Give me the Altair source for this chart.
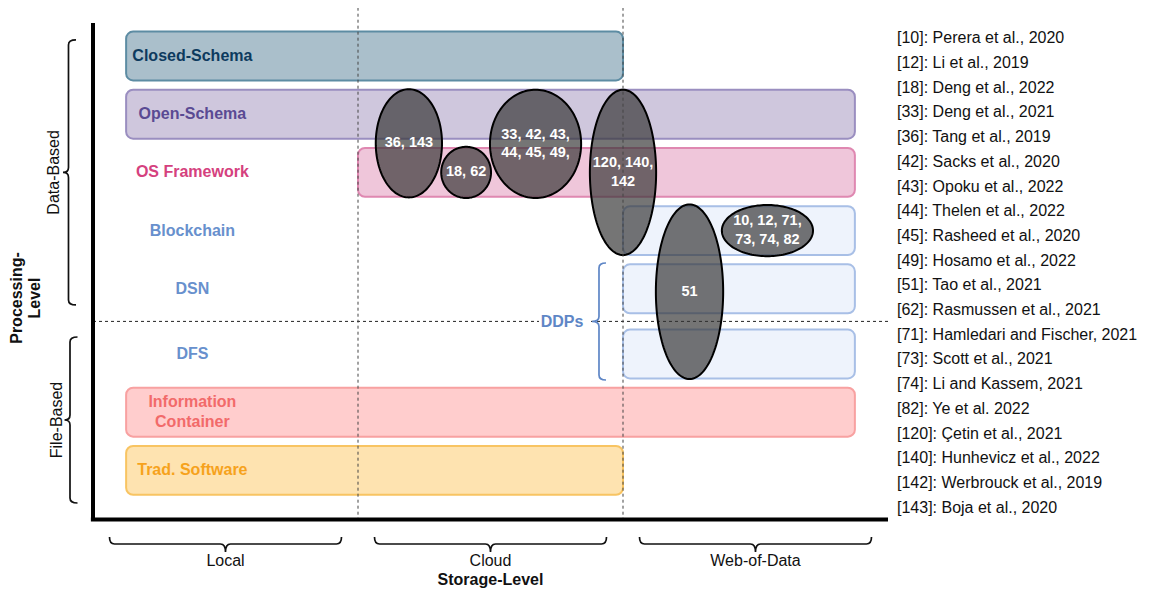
import altair as alt
import pandas as pd

FONT = "Liberation Sans, Arial, Helvetica, sans-serif"

# ---------------- data ----------------
# storage levels (x, in column units: Local 0-1, Cloud 1-2, Web-of-Data 2-3)
storage_levels = ["Local", "Cloud", "Web-of-Data"]
storage_centers = [0.5, 1.5, 2.5]

# processing-level rows (y, in row units from the top)
rows = ["Closed-Schema", "Open-Schema", "OS Framework", "Blockchain",
        "DSN", "DFS", "Information Container", "Trad. Software"]
row_lines = [["Closed-Schema"], ["Open-Schema"], ["OS Framework"], ["Blockchain"],
             ["DSN"], ["DFS"], ["Information", "Container"], ["Trad. Software"]]
row_pos = [0.0, 1.0, 2.0, 3.0, 4.0, 5.12, 6.12, 7.12]
box_start = [0.125, 0.125, 1.0, 2.0, 2.0, 2.0, 0.125, 0.125]
box_end = [2.0, 2.875, 2.875, 2.875, 2.875, 2.875, 2.875, 2.0]
box_fill = ["#aabfcb", "#cfc7dd", "#efc6da", "#eef3fc", "#eef3fc", "#eef3fc", "#ffcdcd", "#fee3b0"]
box_stroke = ["#5d8ca3", "#9a8ec0", "#df88b1", "#a8bfe6", "#a8bfe6", "#a8bfe6", "#f8a1a1", "#f8c462"]
label_color = ["#0d3a5e", "#5a4a93", "#d5417e", "#6890cd", "#6890cd", "#6890cd", "#f26a6a", "#f6a21c"]
label_x = 0.375

# reference clusters (ellipses)
ell_refs = [["36, 143"], ["18, 62"], ["33, 42, 43,", "44, 45, 49,"],
            ["120, 140,", "142"], ["51"], ["10, 12, 71,", "73, 74, 82"]]
ell_cx = [1.192, 1.408, 1.670, 2.0, 2.251, 2.545]
ell_cy = [1.50, 2.0, 1.51, 2.0, 4.05, 3.0]
ell_rx = [0.125, 0.094, 0.172, 0.125, 0.127, 0.172]
ell_ry = [0.93, 0.44, 0.93, 1.42, 1.50, 0.44]

references = [
    "[10]: Perera et al., 2020", "[12]: Li et al., 2019", "[18]: Deng et al., 2022",
    "[33]: Deng et al., 2021", "[36]: Tang et al., 2019", "[42]: Sacks et al., 2020",
    "[43]: Opoku et al., 2022", "[44]: Thelen et al., 2022", "[45]: Rasheed et al., 2020",
    "[49]: Hosamo et al., 2022", "[51]: Tao et al., 2021", "[62]: Rasmussen et al., 2021",
    "[71]: Hamledari and Fischer, 2021", "[73]: Scott et al., 2021", "[74]: Li and Kassem, 2021",
    "[82]: Ye et al. 2022", "[120]: Çetin et al., 2021", "[140]: Hunhevicz et al., 2022",
    "[142]: Werbrouck et al., 2019", "[143]: Boja et al., 2020",
]

groups = ["Data-Based", "File-Based"]
group_center = [2.0, 6.254]
group_text_x = [-0.148, -0.134]
group_brace_x = [-0.0925, -0.0868]
group_brace_len = [265, 166]

# ---------------- layout helpers ----------------
XS = alt.Scale(domain=[-85 / 265, (1134 - 85) / 265], nice=False, zero=False)
YS = alt.Scale(domain=[-48 / 58.2, (580 - 48) / 58.2], nice=False, zero=False, reverse=True)
X_AXIS_Y = 7.964
Y_AXIS_TOP = -0.567


def vbrace(length, curl, tip, r=5.0):
    h = length / 2.0
    c, t, rr = curl / h, tip / h, r / h
    return (f"M{c:.4f},-1 Q0,-1 0,{-1 + rr:.4f} L0,{-rr:.4f} Q0,0 {-t:.4f},0 "
            f"M{-t:.4f},0 Q0,0 0,{rr:.4f} L0,{1 - rr:.4f} Q0,1 {c:.4f},1")


def hbrace(length, curl, tip, r=5.0):
    h = length / 2.0
    c, t, rr = curl / h, tip / h, r / h
    return (f"M-1,{-c:.4f} Q-1,0 {-1 + rr:.4f},0 L{-rr:.4f},0 Q0,0 0,{t:.4f} "
            f"M0,{t:.4f} Q0,0 {rr:.4f},0 L{1 - rr:.4f},0 Q1,0 1,{-c:.4f}")


def XE(f):
    return alt.X(f, scale=XS, axis=None)


def YE(f):
    return alt.Y(f, scale=YS, axis=None)


# ---------------- tables ----------------
box_df = pd.DataFrame({
    "row": rows, "x": box_start, "x2": box_end,
    "y": [p - 0.42 for p in row_pos], "y2": [p + 0.42 for p in row_pos],
    "fill": box_fill, "stroke": box_stroke,
})

lbl = []
for lines, p, c in zip(row_lines, row_pos, label_color):
    n = len(lines)
    for i, s in enumerate(lines):
        lbl.append({"x": label_x, "y": p + (i - (n - 1) / 2) * 0.344, "t": s, "c": c})
label_df = pd.DataFrame(lbl)

ell_df = pd.DataFrame({"eid": list(range(len(ell_cx))), "cx": ell_cx, "cy": ell_cy,
                       "rx": ell_rx, "ry": ell_ry})
et = []
for lines, cx, cy in zip(ell_refs, ell_cx, ell_cy):
    n = len(lines)
    for i, s in enumerate(lines):
        et.append({"x": cx, "y": cy + (i - (n - 1) / 2) * 0.318, "t": s, "c": "#ffffff"})
ell_text_df = pd.DataFrame(et)

ref_df = pd.DataFrame({"x": 3.034, "y": [-0.304 + i * 0.4245 for i in range(len(references))],
                       "t": references, "c": "#111111"})

col_df = pd.DataFrame({"x": storage_centers, "y": 8.68, "t": storage_levels, "c": "#111111"})
title_df = pd.DataFrame({"x": [1.5], "y": [9.0], "t": ["Storage-Level"], "c": ["#111111"]})
ddp_df = pd.DataFrame({"x": [1.77], "y": [4.575], "t": ["DDPs"], "c": ["#5e86c6"]})
ddp_bg_df = pd.DataFrame({"x": [1.683], "x2": [1.876], "y": [4.40], "y2": [4.72]})
group_df = pd.DataFrame({"x": group_text_x, "y": group_center, "t": groups, "c": "#111111"})
proc_df = pd.DataFrame({"x": [-0.285, -0.217], "y": [4.158, 4.158],
                        "t": ["Processing-", "Level"], "c": "#111111"})

brace_rows = []
for gx, gy, gl in zip(group_brace_x, group_center, group_brace_len):
    brace_rows.append({"x": gx, "y": gy, "path": vbrace(gl, 7.5, 5.5), "size": gl ** 2, "c": "#111111"})
brace_rows.append({"x": 1.9094, "y": 4.562, "path": vbrace(117, 7, 7), "size": 117 ** 2, "c": "#5e86c6"})
for cx in storage_centers:
    brace_rows.append({"x": cx, "y": 8.385, "path": hbrace(232, 7, 8), "size": 232 ** 2, "c": "#111111"})
brace_df = pd.DataFrame(brace_rows)

vlines_df = pd.DataFrame({"x": [1.0, 2.0], "y": -0.83, "y2": X_AXIS_Y})
hline_df = pd.DataFrame({"x": [0.0], "x2": [3.0], "y": [4.56]})

# ---------------- layers ----------------
boxes = alt.Chart(box_df).mark_rect(cornerRadius=7, strokeWidth=2).encode(
    x=XE("x:Q"), x2="x2:Q", y=YE("y:Q"), y2="y2:Q",
    fill=alt.Fill("fill:N", scale=None), stroke=alt.Stroke("stroke:N", scale=None),
)

hline = alt.Chart(hline_df).mark_rule(color="#222222", strokeWidth=1, strokeDash=[3, 3]).encode(
    x=XE("x:Q"), x2="x2:Q", y=YE("y:Q"))

ddp_bg = alt.Chart(ddp_bg_df).mark_rect(color="#ffffff").encode(
    x=XE("x:Q"), x2="x2:Q", y=YE("y:Q"), y2="y2:Q")

ellipses = alt.Chart(ell_df).transform_calculate(
    k="sequence(0, 73)"
).transform_flatten(["k"]).transform_calculate(
    a="PI * datum.k / 72"
).transform_calculate(
    ex="datum.cx + datum.rx * cos(datum.a)",
    ey1="datum.cy - datum.ry * sin(datum.a)",
    ey2="datum.cy + datum.ry * sin(datum.a)",
).mark_area(orient="vertical", fill="#333333", fillOpacity=0.68, stroke="#000000",
            strokeWidth=2, interpolate="linear").encode(
    x=XE("ex:Q"), y=YE("ey1:Q"), y2="ey2:Q", detail="eid:N",
)

vlines = alt.Chart(vlines_df).mark_rule(color="#444444", strokeWidth=1, strokeDash=[3, 3]).encode(
    x=XE("x:Q"), y=YE("y:Q"), y2="y2:Q")

axes_df = pd.DataFrame({"x": [0.0, -0.008], "x2": [0.0, 3.0],
                        "y": [Y_AXIS_TOP, X_AXIS_Y], "y2": [X_AXIS_Y, X_AXIS_Y]})
axes = alt.Chart(axes_df).mark_rule(color="#000000", strokeWidth=4).encode(
    x=XE("x:Q"), x2="x2:Q", y=YE("y:Q"), y2="y2:Q")

braces = alt.Chart(brace_df).mark_point(filled=False, strokeWidth=1.7, opacity=1).encode(
    x=XE("x:Q"), y=YE("y:Q"),
    shape=alt.Shape("path:N", scale=None),
    size=alt.Size("size:Q", scale=None),
    color=alt.Color("c:N", scale=None),
)


def texts(df, size, weight="normal", align="center", angle=0):
    return alt.Chart(df).mark_text(font=FONT, fontSize=size, fontWeight=weight, align=align,
                                   baseline="middle", angle=angle).encode(
        x=XE("x:Q"), y=YE("y:Q"), text="t:N", color=alt.Color("c:N", scale=None))


chart = alt.layer(
    boxes, hline, ddp_bg, ellipses, vlines, axes, braces,
    texts(label_df, 16, "bold"),
    texts(ell_text_df, 14.5, "bold"),
    texts(ref_df, 16, "normal", align="left"),
    texts(col_df, 16),
    texts(title_df, 16, "bold"),
    texts(ddp_df, 16, "bold"),
    texts(group_df, 16, angle=270),
    texts(proc_df, 16, "bold", angle=270),
).properties(
    width=1134, height=580, padding=0, autosize="none", background="#ffffff"
).configure_view(strokeWidth=0)

chart.save("out.html", embed_options={"renderer": "svg", "actions": False})
